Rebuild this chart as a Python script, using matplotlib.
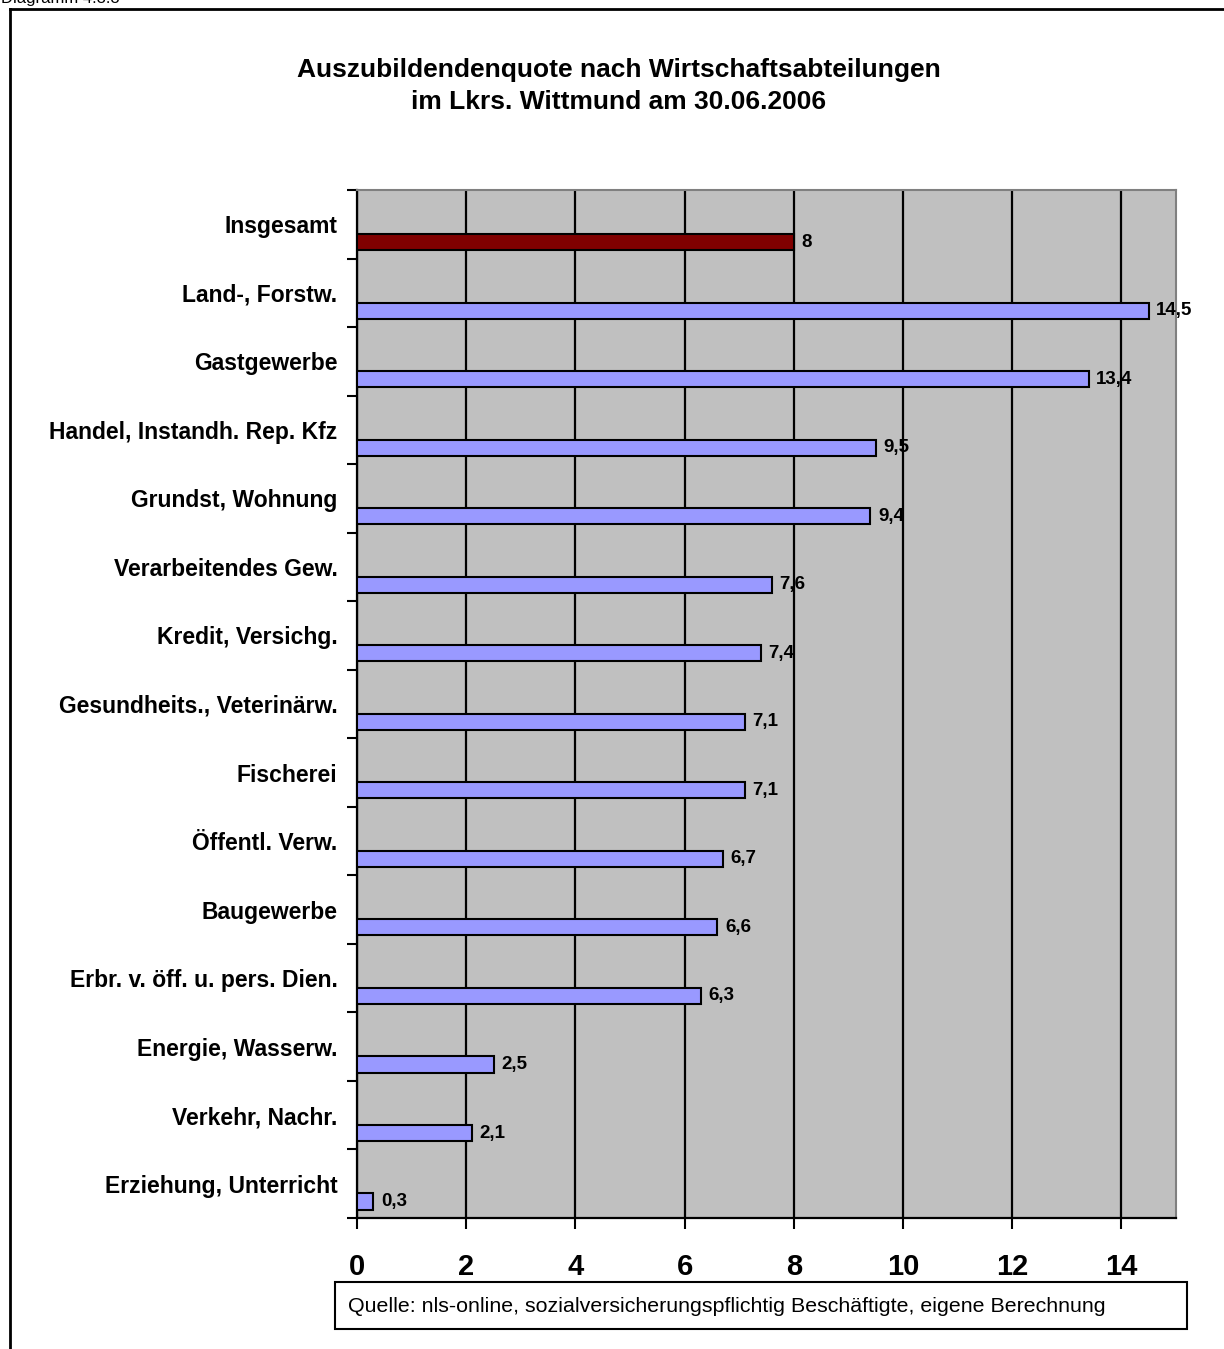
import matplotlib
matplotlib.use("Agg")
import matplotlib.pyplot as plt
from matplotlib.lines import Line2D
from matplotlib.patches import Rectangle

plt.rcParams['font.family'] = ['Liberation Sans', 'DejaVu Sans']

categories = [
    "Insgesamt",
    "Land-, Forstw.",
    "Gastgewerbe",
    "Handel, Instandh. Rep. Kfz",
    "Grundst, Wohnung",
    "Verarbeitendes Gew.",
    "Kredit, Versichg.",
    "Gesundheits., Veterinärw.",
    "Fischerei",
    "Öffentl. Verw.",
    "Baugewerbe",
    "Erbr. v. öff. u. pers. Dien.",
    "Energie, Wasserw.",
    "Verkehr, Nachr.",
    "Erziehung, Unterricht",
]
values = [8, 14.5, 13.4, 9.5, 9.4, 7.6, 7.4, 7.1, 7.1, 6.7, 6.6, 6.3, 2.5, 2.1, 0.3]
value_labels = ["8", "14,5", "13,4", "9,5", "9,4", "7,6", "7,4", "7,1", "7,1",
                "6,7", "6,6", "6,3", "2,5", "2,1", "0,3"]
x_ticks = [0, 2, 4, 6, 8, 10, 12, 14]

title = "Auszubildendenquote nach Wirtschaftsabteilungen\nim Lkrs. Wittmund am 30.06.2006"
source = "Quelle: nls-online, sozialversicherungspflichtig Beschäftigte, eigene Berechnung"

W, H = 1224, 1349
fig = plt.figure(figsize=(W / 100, H / 100), dpi=100)
fig.patch.set_facecolor("white")

ax = fig.add_axes([357 / W, 1 - 1218 / H, (1176 - 357) / W, (1218 - 190) / H])
ax.set_facecolor("#c0c0c0")

n = len(categories)
pos = list(range(n))
bar_offset = 0.26
bar_h = 0.235
colors = ["#800000"] + ["#9999ff"] * (n - 1)

ax.barh([p + bar_offset for p in pos], values, height=bar_h, color=colors,
        edgecolor="black", linewidth=1.5, zorder=3)

for p, v, lab in zip(pos, values, value_labels):
    ax.annotate(lab, xy=(v, p + bar_offset), xytext=(5.5, 0), textcoords="offset points",
                va="center", ha="left", fontsize=13.5, fontweight="bold", zorder=4)

ax.set_xlim(0, 15)
ax.set_ylim(n - 0.5, -0.5)

ax.set_xticks(x_ticks)
ax.set_xticklabels([str(t) for t in x_ticks], fontsize=21, fontweight="bold")
ax.tick_params(axis="x", direction="out", length=8, width=1.5, pad=17)

ax.set_yticks(pos)
ax.set_yticklabels(categories, fontsize=16.5, fontweight="bold")
ax.set_yticks([p - 0.5 for p in pos] + [n - 0.5], minor=True)
ax.tick_params(axis="y", which="major", length=0, pad=14)
ax.tick_params(axis="y", which="minor", direction="out", length=7, width=1.5)

ax.grid(axis="x", color="black", linewidth=1.6, zorder=1)
ax.set_axisbelow(True)

for side in ("left", "bottom"):
    ax.spines[side].set_color("black")
    ax.spines[side].set_linewidth(1.6)
for side in ("top", "right"):
    ax.spines[side].set_color("#808080")
    ax.spines[side].set_linewidth(1.5)

fig.text(619 / W, 1 - 86 / H, title, ha="center", va="center", fontsize=19,
         fontweight="bold", linespacing=1.4)

# outer chart frame
fig.add_artist(Line2D([10 / W, 1.0], [1 - 9 / H, 1 - 9 / H], color="black", linewidth=2))
fig.add_artist(Line2D([10 / W, 10 / W], [0, 1 - 9 / H], color="black", linewidth=2))

fig.text(1 / W, 1 - 3 / H, "Diagramm 4.3.3", ha="left", va="baseline", fontsize=12)

# source note box
fig.add_artist(Rectangle((335 / W, 1 - 1329 / H), (1187 - 335) / W, (1329 - 1282) / H,
                         transform=fig.transFigure, facecolor="white", edgecolor="black",
                         linewidth=1.5))
fig.text(348 / W, 1 - 1306 / H, source, ha="left", va="center", fontsize=15.4)

fig.savefig("out.png", dpi=100, facecolor="white")
